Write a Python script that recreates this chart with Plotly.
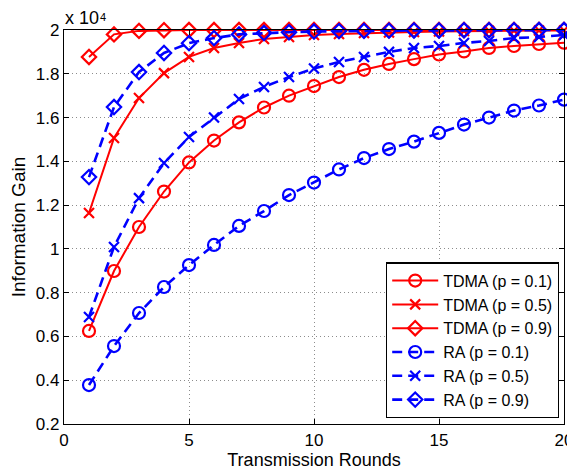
import plotly.graph_objects as go

rounds = list(range(1, 21))

tdma_p01 = [0.625, 0.899, 1.10, 1.262, 1.395, 1.495, 1.578, 1.646, 1.700, 1.744,
            1.785, 1.818, 1.845, 1.867, 1.888, 1.902, 1.918, 1.927, 1.936, 1.942]
tdma_p05 = [1.164, 1.507, 1.689, 1.803, 1.877, 1.918, 1.941, 1.959, 1.968, 1.977,
            1.982, 1.986, 1.989, 1.991, 1.993, 1.995, 1.996, 1.997, 1.998, 1.998]
tdma_p09 = [1.877, 1.980, 1.996, 1.999, 2.0, 2.0, 2.0, 2.0, 2.0, 2.0,
            2.0, 2.0, 2.0, 2.0, 2.0, 2.0, 2.0, 2.0, 2.0, 2.0]
ra_p01 = [0.378, 0.556, 0.707, 0.826, 0.926, 1.018, 1.105, 1.173, 1.246, 1.303,
          1.363, 1.415, 1.456, 1.490, 1.530, 1.568, 1.600, 1.632, 1.655, 1.682]
ra_p05 = [0.689, 1.009, 1.232, 1.392, 1.511, 1.600, 1.685, 1.740, 1.785, 1.824,
          1.854, 1.877, 1.900, 1.918, 1.927, 1.941, 1.950, 1.963, 1.968, 1.977]
ra_p09 = [1.328, 1.648, 1.808, 1.895, 1.940, 1.963, 1.980, 1.986, 1.990, 1.993,
          1.995, 1.996, 1.997, 1.998, 1.998, 1.999, 1.999, 1.999, 2.0, 2.0]

y_ticks = [0.2, 0.4, 0.6, 0.8, 1.0, 1.2, 1.4, 1.6, 1.8, 2.0]
y_tick_labels = ["0.2", "0.4", "0.6", "0.8", "1", "1.2", "1.4", "1.6", "1.8", "2"]
x_ticks = [0, 5, 10, 15, 20]

RED = "#ff0000"
BLUE = "#0000ff"
FONT = "Liberation Sans, Arial, Helvetica, sans-serif"
DASH = "10px,6px"

series = [
    ("TDMA (p = 0.1)", tdma_p01, RED, "solid", "circle-open"),
    ("TDMA (p = 0.5)", tdma_p05, RED, "solid", "x-thin-open"),
    ("TDMA (p = 0.9)", tdma_p09, RED, "solid", "diamond-open"),
    ("RA (p = 0.1)", ra_p01, BLUE, DASH, "circle-open"),
    ("RA (p = 0.5)", ra_p05, BLUE, DASH, "x-thin-open"),
    ("RA (p = 0.9)", ra_p09, BLUE, DASH, "diamond-open"),
]

sizes = {"circle-open": 12, "x-thin-open": 10, "diamond-open": 11}

fig = go.Figure()
for name, ys, color, dash, sym in series:
    lw = 2.0 if color == RED else 2.6
    fig.add_trace(go.Scatter(
        x=rounds, y=ys, name=name, mode="lines+markers",
        line=dict(color=color, width=lw, dash=dash),
        marker=dict(symbol=sym, size=sizes[sym], color=color,
                    line=dict(color=color, width=2.2)),
        cliponaxis=False,
    ))

axis_common = dict(
    showline=True, linecolor="black", linewidth=1.2, mirror="allticks",
    ticks="inside", ticklen=5, tickcolor="black", tickwidth=1,
    showgrid=True, gridcolor="#8c8c8c", griddash="1px,3px", gridwidth=1,
    zeroline=False, automargin=False,
    tickfont=dict(family=FONT, size=17, color="black"),
)

# The page body has an 8px default margin; the figure is sized to fit the 575x474 window.
fig.update_layout(
    width=567, height=466,
    margin=dict(l=56, r=11, t=22, b=50, autoexpand=False),
    paper_bgcolor="white", plot_bgcolor="white",
    font=dict(family=FONT, size=17, color="black"),
    xaxis=dict(range=[0, 20], tickvals=x_ticks,
               title=dict(text="Transmission Rounds", standoff=4,
                          font=dict(family=FONT, size=18, color="black")),
               **axis_common),
    yaxis=dict(range=[0.2, 2.0], tickvals=y_ticks, ticktext=y_tick_labels,
               title=dict(text="Information Gain", standoff=8,
                          font=dict(family=FONT, size=19, color="black")),
               **axis_common),
    legend=dict(x=0.99, y=0.014, xanchor="right", yanchor="bottom",
                bgcolor="white", bordercolor="black", borderwidth=1.2,
                font=dict(family=FONT, size=16), tracegroupgap=0, itemwidth=46),
    showlegend=True,
    annotations=[
        dict(text="x 10", x=0, y=1.0, xref="paper", yref="paper",
             xanchor="left", yanchor="bottom", showarrow=False,
             font=dict(family=FONT, size=18), xshift=-1),
        dict(text="4", x=0.068, y=1.0, xref="paper", yref="paper",
             xanchor="left", yanchor="bottom", showarrow=False,
             font=dict(family=FONT, size=11), yshift=5),
    ],
)

fig.write_html("out.html")
